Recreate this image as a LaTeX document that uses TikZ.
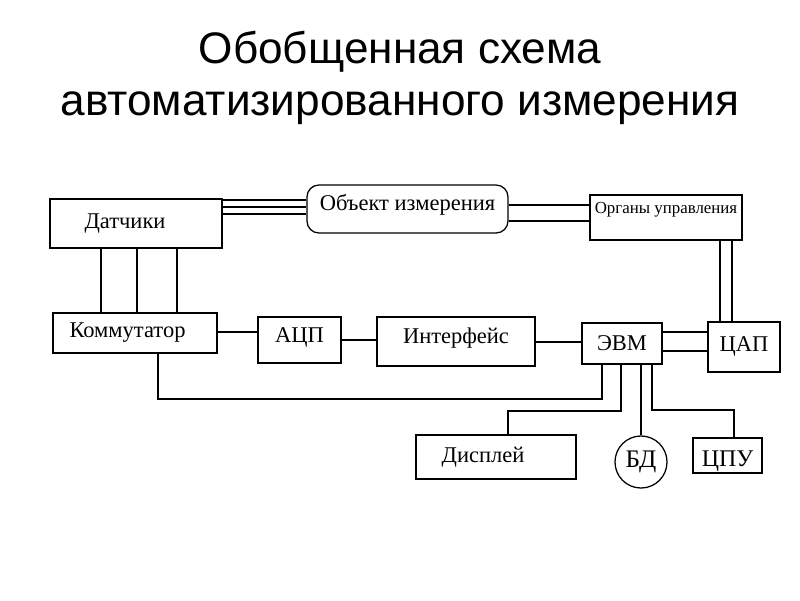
\documentclass[tikz,border=0pt]{standalone}
\usepackage{fontspec}
\setmainfont{Liberation Serif}
\newfontfamily\titlefont{Liberation Sans}
\tikzset{>=stealth}
\tikzset{box/.style={draw, rectangle, line width=0.9pt, inner sep=1pt, font=\fontsize{16}{19}\selectfont}}
\tikzset{wire/.style={line width=0.9pt}}
\tikzset{title/.style={anchor=base, font=\titlefont\fontsize{31.4}{37}\selectfont}}

\begin{document}
\begin{tikzpicture}[x=0.025cm, y=-0.025cm]
    \useasboundingbox (0,0) rectangle (800,600);
    \node[title] (title1) at (400,63) {Обобщенная схема};
    \node[title] (title2) at (400,115) {автоматизированного измерения};
    \node[box, minimum width=4.3cm, minimum height=1.225cm] (dat) at (136,223.5) {Датчики\rule{0.55cm}{0pt}};
    \node[box, rounded corners=0.3cm, minimum width=5.025cm, minimum height=1.2cm, text height=11pt, text depth=9pt] (obj) at (407.5,209) {Объект измерения};
    \node[box, minimum width=3.8cm, minimum height=1.125cm, font=\fontsize{12}{14}\selectfont, text height=8pt, text depth=14pt] (org) at (666,217.5) {Органы управления};
    \node[box, minimum width=4.1cm, minimum height=1cm] (kom) at (135,333) {Коммутатор\rule{0.375cm}{0pt}};
    \node[box, minimum width=2.075cm, minimum height=1.15cm, text height=11pt, text depth=7pt] (adc) at (299.5,340) {АЦП};
    \node[box, minimum width=3.95cm, minimum height=1.225cm, text height=11pt, text depth=8pt] (int) at (456,341.5) {Интерфейс};
    \node[box, minimum width=2cm, minimum height=1.025cm] (evm) at (622,343.5) {ЭВМ};
    \node[box, minimum width=1.8cm, minimum height=1.25cm, text height=11pt, text depth=4pt] (dac) at (744,347) {ЦАП};
    \node[box, minimum width=4cm, minimum height=1.1cm] (disp) at (496,457) {Дисплей\rule{0.65cm}{0pt}};
    \node[box, circle, minimum size=1.3cm, inner sep=0pt, font=\fontsize{18}{21}\selectfont] (bd) at (641,462) {БД};
    \node[box, minimum width=1.725cm, minimum height=0.875cm, font=\fontsize{17}{20}\selectfont, text height=15pt, text depth=0pt] (cpu) at (727.5,455.5) {ЦПУ};
    \foreach \y in {200,207,214}
        \draw[wire] (dat.east |- 0,\y) -- (obj.west |- 0,\y);
    \foreach \y in {205,221}
        \draw[wire] (obj.east |- 0,\y) -- (org.west |- 0,\y);
    \foreach \x in {101,137,177}
        \draw[wire] (dat.south -| \x,0) -- (kom.north -| \x,0);
    \foreach \x in {720,732}
        \draw[wire] (org.south -| \x,0) -- (dac.north -| \x,0);
    \draw[wire] (kom.east |- 0,332) -- (adc.west |- 0,332);
    \draw[wire] (adc.east) -- (int.west |- adc.east);
    \draw[wire] (int.east |- 0,342) -- (evm.west |- 0,342);
    \foreach \y in {332,351}
        \draw[wire] (evm.east |- 0,\y) -- (dac.west |- 0,\y);
    \draw[wire] (evm.south -| 602,0) |- (158,399) -- (kom.south -| 158,0);
    \draw[wire] (evm.south -| 621,0) |- (508,411) -- (disp.north -| 508,0);
    \draw[wire] (evm.south -| 641,0) -- (bd.north);
    \draw[wire] (evm.south -| 652,0) |- (734,410) -- (cpu.north -| 734,0);
\end{tikzpicture}
\end{document}
